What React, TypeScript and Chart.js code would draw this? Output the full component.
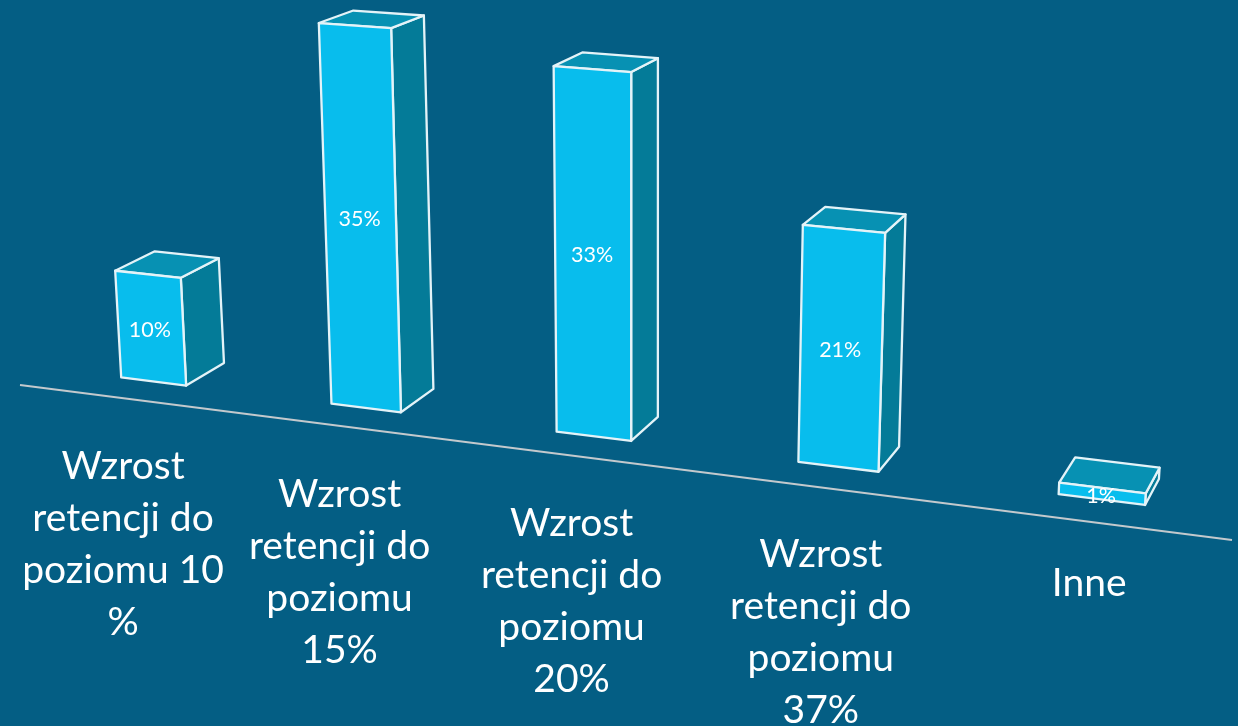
import React, { useEffect, useRef } from "react";
import { Chart, registerables } from "chart.js";

Chart.register(...registerables);

// ---- data ----
const categories = [
  ["Wzrost", "retencji do", "poziomu 10", "%"],
  ["Wzrost", "retencji do", "poziomu", "15%"],
  ["Wzrost", "retencji do", "poziomu", "20%"],
  ["Wzrost", "retencji do", "poziomu", "37%"],
  "Inne",
];
const seriesValues = [10, 35, 33, 21, 1];

// ---- colours ----
const BG = "#045E84";
const FRONT = "#08BDED";
const TOP = "#0791B3";
const SIDE = "#047B98";
const EDGE = "#E4F3F8";
const AXIS = "#C3C9CD";

// ---- perspective model of the picture ----
const PX = { A: -6009, B: 184875, C: 30 }; // category position -> screen x
const baseY = (x: number) => 381.5 + 0.1245 * (x - 153.5);
const axisY = (x: number) => 385 + 0.1279 * (x - 20);
const projX = (u: number) => PX.A + PX.B / (PX.C - u);

function up(x: number, y: number, h: number): [number, number] {
  return [x + ((x - 630) * h) / 9000, y - h];
}
function back(p: [number, number]): [number, number] {
  return [p[0] + 0.025 * (1700 - p[0]), p[1] + 0.028 * (-423 - p[1])];
}
function quad(ctx: CanvasRenderingContext2D, pts: [number, number][], fill: string) {
  ctx.beginPath();
  pts.forEach((p, i) => (i ? ctx.lineTo(p[0], p[1]) : ctx.moveTo(p[0], p[1])));
  ctx.closePath();
  ctx.fillStyle = fill;
  ctx.fill();
  ctx.stroke();
}

const perspectivePlugin = {
  id: "perspective",
  beforeDraw(chart: any) {
    // place the axis' own tick labels along the tilted floor
    const scale = chart.scales.x;
    scale.top = 0; // the labels are clipped to the scale's box
    scale.getLabelItems().forEach((item: any, i: number) => {
      const lh = item.font.lineHeight;
      const bx = projX(i);
      const x = bx - 0.019 * (1677 - bx) - 1.5;
      const single = !Array.isArray(item.label);
      const cy = axisY(x) + 68.7 - 0.0025 * (x - 124) - (single ? 5 : 0);
      item.options.translation = [x, cy - lh / 2];
    });
  },
  beforeDatasetsDraw(chart: any) {
    const { ctx, chartArea } = chart;
    ctx.save();
    ctx.strokeStyle = AXIS;
    ctx.lineWidth = 2;
    ctx.beginPath();
    ctx.moveTo(chartArea.left, axisY(chartArea.left));
    ctx.lineTo(chartArea.right, axisY(chartArea.right));
    ctx.stroke();
    ctx.restore();
  },
  beforeDatasetDraw(chart: any, args: any) {
    const { ctx } = chart;
    const xs = chart.scales.x;
    const spacing = xs.getPixelForValue(1) - xs.getPixelForValue(0);
    const meta = args.meta;
    ctx.save();
    ctx.lineWidth = 2.3;
    ctx.lineJoin = "round";
    ctx.strokeStyle = EDGE;
    meta.data.forEach((el: any, i: number) => {
      const u = (el.x - xs.getPixelForValue(0)) / spacing;
      const half = el.width / 2 / spacing;
      const h = el.base - el.y;
      const hl = h * (1.008 + 0.019 * u - 0.03 * half);
      const hr = h * (1.008 + 0.019 * u + 0.03 * half);
      const xl = projX(u - half);
      const xr = projX(u + half);
      const bl: [number, number] = [xl, baseY(xl)];
      const br: [number, number] = [xr, baseY(xr)];
      const tl = up(bl[0], bl[1], hl);
      const tr = up(br[0], br[1], hr);
      quad(ctx, [tr, back(tr), back(br), br], SIDE);
      quad(ctx, [tl, back(tl), back(tr), tr], TOP);
      quad(ctx, [tl, tr, br, bl], FRONT);
      ctx.fillStyle = "#FFFFFF";
      ctx.font = "21.5px Lato";
      ctx.textAlign = "center";
      ctx.textBaseline = "middle";
      ctx.fillText(
        `${seriesValues[i]}%`,
        (tl[0] + tr[0] + bl[0] + br[0]) / 4 - 1,
        (tl[1] + tr[1] + bl[1] + br[1]) / 4 + 2.5
      );
    });
    ctx.restore();
    return false;
  },
};

export default function App() {
  const ref = useRef<HTMLCanvasElement>(null);
  useEffect(() => {
    document.body.style.margin = "0";
    document.body.style.background = BG;
    document.body.style.overflow = "hidden";
    const chart = new Chart(ref.current!, {
      type: "bar",
      data: {
        labels: categories as any,
        datasets: [
          {
            label: "Retencja",
            data: seriesValues,
            backgroundColor: FRONT,
            borderColor: EDGE,
            borderWidth: 2,
            barPercentage: 0.316,
            categoryPercentage: 1,
          },
        ],
      },
      options: {
        responsive: false,
        animation: false,
        layout: { padding: { left: 20, right: 6, top: 0, bottom: 0 } },
        plugins: { legend: { display: false }, tooltip: { enabled: false } },
        scales: {
          x: {
            grid: { display: false },
            border: { display: false },
            afterFit(scale: any) {
              scale.height = 226;
            },
            ticks: {
              color: "#FFFFFF",
              autoSkip: false,
              maxRotation: 0,
              minRotation: 0,
              font: { family: "Lato", size: 39, lineHeight: "52px" as any },
            },
          },
          y: { display: false, min: 0, max: 47 },
        },
      },
      plugins: [perspectivePlugin as any],
    });
    return () => chart.destroy();
  }, []);
  return (
    <div style={{ width: 1238, height: 726, background: BG, overflow: "hidden" }}>
      <canvas ref={ref} width={1238} height={726} style={{ display: "block" }} />
    </div>
  );
}
